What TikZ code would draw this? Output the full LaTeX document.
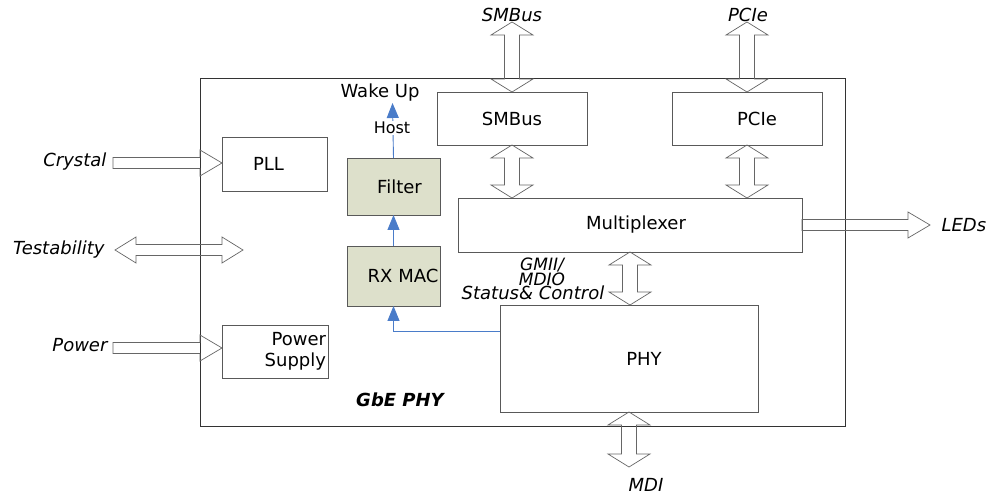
\documentclass[tikz,border=0pt]{standalone}
\usepackage{fontspec}
\setmainfont{DejaVu Sans}
\usetikzlibrary{calc,arrows.meta}

% fat bus arrows, drawn between two points
\newcommand{\busV}[2]{\draw[bus] let \p1=(#1), \p2=(#2) in
  (\x1,\y1) -- (\x1+21pt,\y1-13pt) -- (\x1+7.5pt,\y1-13pt) -- (\x1+7.5pt,\y2+13pt)
  -- (\x1+21pt,\y2+13pt) -- (\x1,\y2) -- (\x1-21pt,\y2+13pt) -- (\x1-7.5pt,\y2+13pt)
  -- (\x1-7.5pt,\y1-13pt) -- (\x1-21pt,\y1-13pt) -- cycle;}
\newcommand{\busH}[2]{\draw[bus] let \p1=(#1), \p2=(#2) in
  (\x1,\y1+5.5pt) -- (\x2-22pt,\y1+5.5pt) -- (\x2-22pt,\y1+13pt) -- (\x2,\y1)
  -- (\x2-22pt,\y1-13pt) -- (\x2-22pt,\y1-5.5pt) -- (\x1,\y1-5.5pt) -- cycle;}
\newcommand{\busHH}[2]{\draw[bus] let \p1=(#1), \p2=(#2) in
  (\x1,\y1) -- (\x1+21pt,\y1+13pt) -- (\x1+21pt,\y1+5.5pt) -- (\x2-21pt,\y1+5.5pt)
  -- (\x2-21pt,\y1+13pt) -- (\x2,\y1) -- (\x2-21pt,\y1-13pt) -- (\x2-21pt,\y1-5.5pt)
  -- (\x1+21pt,\y1-5.5pt) -- (\x1+21pt,\y1-13pt) -- cycle;}

\definecolor{blocfill}{HTML}{DDE0CB}
\definecolor{sigblue}{HTML}{4A7CC9}

\begin{document}
\begin{tikzpicture}[x=1pt,y=-1pt]
    \tikzstyle{bus}=[draw=black!60,line width=0.7pt,line join=miter]
    \tikzstyle{sig}=[-{Triangle[length=15pt,width=12pt]},sigblue,line width=0.9pt]
\tikzset{bloc/.style={draw=black!65,line width=0.9pt,fill=#1,inner sep=0pt,outer sep=0pt},
bloc/.default={white}, every node/.style={font=\fontsize{18}{21}\selectfont}}
\useasboundingbox (0,0) rectangle (991,494);

\node[bloc,minimum width=645,minimum height=348,draw=black!80] (gbe) at (522.5,252){};
\node[font=\fontsize{18}{21}\selectfont\bfseries\itshape] (gbename) at (400,400){GbE PHY};

\node[bloc,minimum width=105,minimum height=54] (pll) at (274.5,164){\hspace*{-12pt}PLL};
\node[bloc,minimum width=106,minimum height=53,align=right,text width=102] (psu) at (275,351.5){Power\\Supply};
\node[bloc=blocfill,minimum width=93,minimum height=57] (filter) at (393.5,186.5){\hspace*{12pt}Filter};
\node[bloc=blocfill,minimum width=93,minimum height=60,align=right,text width=90] (rxmac) at (393.5,276){RX MAC};
\node[bloc,minimum width=150,minimum height=53] (smbus) at (512,118.5){SMBus};
\node[bloc,minimum width=150,minimum height=53] (pcie) at (747,118.5){\hspace*{20pt}PCIe};
\node[bloc,minimum width=344,minimum height=54] (mux) at (630,225){\hspace*{12pt}Multiplexer};
\node[bloc,minimum width=258,minimum height=107] (phy) at (629,358.5){\hspace*{30pt}PHY};

% free ends of the buses
\coordinate (smbusio) at (512,22);
\coordinate (pcieio) at (747,22);
\coordinate (mdiio) at (630,467);
\coordinate (crystalin) at (113,163);
\coordinate (powerin) at (113,348);
\coordinate (ledsout) at (930,225);
\coordinate (testL) at (115,250);
\coordinate (testR) at (243,250);
\coordinate (wake) at (392.5,103);

\busV{smbusio}{smbus.north}
\busV{pcieio}{pcie.north}
\busV{smbus.south}{mux.north}
\busV{pcie.south}{mux.north}
\busV{mux.south}{phy.north}
\busV{phy.south}{mdiio}
\busH{crystalin}{pll.west}
\busH{powerin}{psu.west}
\busH{mux.east}{ledsout}
\busHH{testL}{testR}

\draw[sig] (rxmac.north) -- (filter.south);
\draw[sig] (filter.north) -- (wake);
\draw[sig] (phy.north west) ++(0,26) -| (rxmac.south);

\node (wakeup) at (380,93){Wake Up};
\node[fill=white,inner sep=1pt,font=\fontsize{16}{18}\selectfont] (host) at (392,128){Host};

\begin{scope}[every node/.style={font=\fontsize{18}{21}\selectfont\itshape}]
\node (smbuslbl) at (512,15){SMBus};
\node (pcielbl) at (748,15){PCIe};
\node (mdilbl) at (646,485){MDI};
\node[anchor=east] (crystallbl) at (110,162){Crystal};
\node[anchor=east] (testlbl) at (108,250){Testability};
\node[anchor=east] (powerlbl) at (111,345){Power};
\node[anchor=west] (ledslbl) at (938,225){LEDs};
\node[align=center,font=\fontsize{17}{15}\selectfont\itshape] (gmii) at (542,272){GMII/\\MDIO};
\node (statlbl) at (533,293){Status\& Control};
\end{scope}

  \end{tikzpicture}
\end{document}
